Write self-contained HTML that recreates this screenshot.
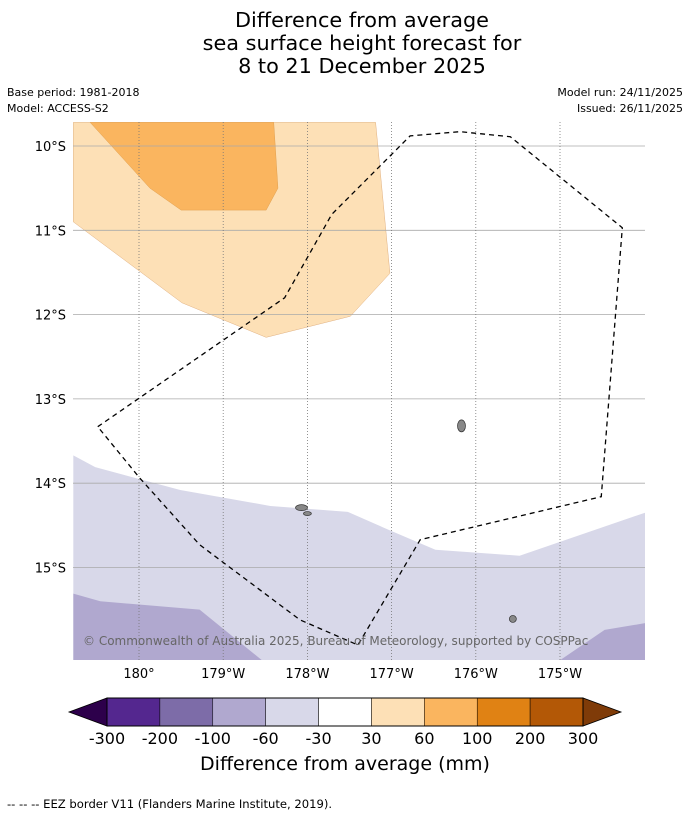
<!DOCTYPE html>
<html><head><meta charset="utf-8">
<style>
body{margin:0;background:#fff;font-family:"Liberation Sans","DejaVu Sans",sans-serif;}
#wrap{position:relative;width:690px;height:816px;overflow:hidden;background:#fff}
</style></head>
<body>
<div id="wrap">
<svg id="svg" width="690" height="816" xmlns="http://www.w3.org/2000/svg" font-family="DejaVu Sans, Liberation Sans, sans-serif">
  <g font-size="20.8" text-anchor="middle" fill="#000">
    <text x="362" y="27">Difference from average</text>
    <text x="362" y="50">sea surface height forecast for</text>
    <text x="362" y="73">8 to 21 December 2025</text>
  </g>
  <g font-size="11" fill="#000">
    <text x="7" y="96">Base period: 1981-2018</text>
    <text x="7" y="112">Model: ACCESS-S2</text>
    <text x="683" y="96" text-anchor="end">Model run: 24/11/2025</text>
    <text x="683" y="112" text-anchor="end">Issued: 26/11/2025</text>
  </g>
  <defs><clipPath id="mapclip"><rect x="73" y="122" width="572" height="538"/></clipPath></defs>
  <rect x="73" y="122" width="572" height="538" fill="#fff"/>
  <g id="contours" clip-path="url(#mapclip)"></g>
  <g id="grid" clip-path="url(#mapclip)"></g>
  <g id="islands" clip-path="url(#mapclip)"></g>
  <g id="eez" clip-path="url(#mapclip)"></g>
  <text x="83" y="645" font-size="12" fill="#666">© Commonwealth of Australia 2025, Bureau of Meteorology, supported by COSPPac</text>
  <g id="ticks" font-size="13" fill="#000"></g>
  <g id="cbar"></g>
  <text x="345" y="770" font-size="19" text-anchor="middle">Difference from average (mm)</text>
  <text x="7" y="808" font-size="11.6">--  --  -- EEZ border V11 (Flanders Marine Institute, 2019).</text>
</svg>
</div>
<script>
// lon in degrees east (180 = 180°, 181 = 179°W), lat in degrees south
const latTicks=[10,11,12,13,14,15];
const latLabels=["10°S","11°S","12°S","13°S","14°S","15°S"];
const lonTicks=[180,181,182,183,184,185];
const lonLabels=["180°","179°W","178°W","177°W","176°W","175°W"];
const cbLevels=["-300","-200","-100","-60","-30","30","60","100","200","300"];
const cbColors=["#54278f","#7d6ca8","#b0a8cf","#d8d8e9","#ffffff","#fde0b6","#fab55f","#e08214","#b35806"];
const cbLow="#2d004b", cbHigh="#7f3b08";
const lightOrange=[[179.22,9.72],[182.81,9.72],[182.98,11.51],[182.51,12.02],[181.51,12.27],[180.51,11.86],[179.22,10.90]];
const midOrange=[[179.42,9.72],[181.60,9.72],[181.65,10.50],[181.51,10.76],[180.50,10.76],[180.13,10.50]];
const lightLav=[[179.22,13.67],[179.48,13.81],[180.49,14.08],[181.56,14.27],[182.48,14.34],[182.98,14.56],[183.52,14.79],[184.52,14.86],[186.01,14.35],[186.01,16.10],[179.22,16.10]];
const midLavLeft=[[179.22,15.31],[179.54,15.40],[180.72,15.50],[181.46,16.10],[179.22,16.10]];
const midLavRight=[[185.0,16.10],[185.53,15.74],[186.01,15.66],[186.01,16.10]];
const eezLon=[179.51,181.73,182.29,183.22,183.81,184.41,185.74,185.49,183.34,182.60,181.91,180.72,180.01,179.51];
const eezLat=[13.33,11.80,10.81,9.88,9.83,9.89,10.97,14.16,14.67,15.92,15.62,14.73,13.94,13.33];
const islands=[[183.83,13.32,4,6],[181.93,14.29,6,3],[182.0,14.36,4,2],[184.44,15.61,3.5,3.5]];

const NS="http://www.w3.org/2000/svg";
const xs=l=>139+(l-180)*84.2;
const ys=l=>146+(l-10)*84.3;
function el(t,a,p){const e=document.createElementNS(NS,t);for(const k in a)e.setAttribute(k,a[k]);p.appendChild(e);return e;}
const C=document.getElementById('contours');
function poly(arr,fill,name,stroke){
  const p=el('polygon',{points:arr.map(d=>xs(d[0])+','+ys(d[1])).join(' '),fill:fill,stroke:stroke||'none','stroke-width':0.5},C);
  
  
}
poly(lightOrange,"#fde0b6","contour-30-60","#e0b080");
poly(midOrange,"#fab55f","contour-60-100","#e0a050");
poly(lightLav,"#d8d8e9","contour-neg30-neg60");
poly(midLavLeft,"#b0a8cf","contour-neg60-neg100-west");
poly(midLavRight,"#b0a8cf","contour-neg60-neg100-east");

const G=document.getElementById('grid');
latTicks.forEach(v=>{const l=el('line',{x1:73,x2:645,y1:ys(v),y2:ys(v),stroke:'#aaa','stroke-width':0.8},G);

});
lonTicks.forEach(v=>{const l=el('line',{x1:xs(v),x2:xs(v),y1:122,y2:660,stroke:'#777','stroke-width':0.8,'stroke-dasharray':'1,2'},G);

});

const I=document.getElementById('islands');
islands.forEach(d=>{const e=el('ellipse',{cx:xs(d[0]),cy:ys(d[1]),rx:d[2],ry:d[3],fill:'#888',stroke:'#333','stroke-width':0.7},I);

});

const E=document.getElementById('eez');
const ep=el('polyline',{points:eezLon.map((v,i)=>xs(v)+','+ys(eezLat[i])).join(' '),fill:'none',stroke:'#000','stroke-width':1.3,'stroke-dasharray':'5,4'},E);



const T=document.getElementById('ticks');
latTicks.forEach((v,i)=>{const t=el('text',{x:66,y:ys(v)+5,'text-anchor':'end'},T);t.textContent=latLabels[i];

});
lonTicks.forEach((v,i)=>{const t=el('text',{x:xs(v),y:678,'text-anchor':'middle'},T);t.textContent=lonLabels[i];

});

const B=document.getElementById('cbar');
const cx0=107,cw=(583-107)/cbColors.length,cy0=698,ch=28;
const la=el('polygon',{points:`69,${cy0+ch/2} ${cx0},${cy0} ${cx0},${cy0+ch}`,fill:cbLow,stroke:'#000','stroke-width':0.8},B);


const ra=el('polygon',{points:`621,${cy0+ch/2} 583,${cy0} 583,${cy0+ch}`,fill:cbHigh,stroke:'#000','stroke-width':0.8},B);


cbColors.forEach((c,i)=>{const r=el('rect',{x:cx0+i*cw,y:cy0,width:cw,height:ch,fill:c,stroke:'#000','stroke-width':0.5},B);

});
el('rect',{x:cx0,y:cy0,width:583-cx0,height:ch,fill:'none',stroke:'#000','stroke-width':1},B);
cbLevels.forEach((s,i)=>{const t=el('text',{x:cx0+i*cw,y:744,'text-anchor':'middle','font-size':16},B);t.textContent=s;

});
</script>
</body></html>
